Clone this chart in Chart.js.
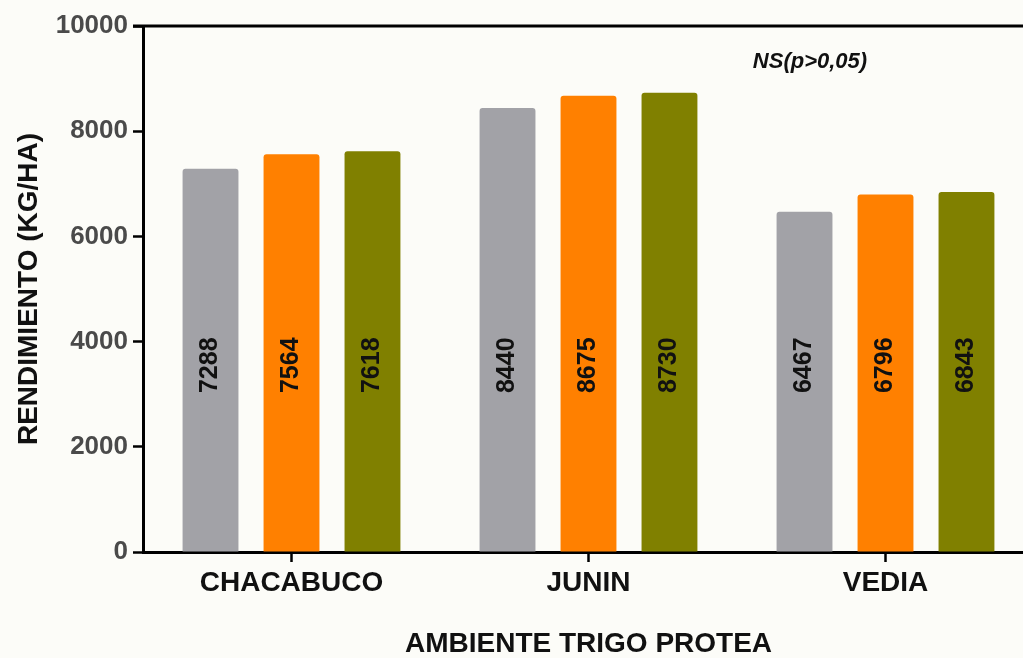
<!DOCTYPE html>
<html>
<head>
<meta charset="utf-8">
<script src="https://cdn.jsdelivr.net/npm/chart.js@4.4.1/dist/chart.umd.min.js"></script>
<style>
  html, body { margin: 0; padding: 0; overflow: hidden; background: #fcfcf8; }
  #wrap { width: 1034px; height: 658px; }
</style>
</head>
<body>
<div id="wrap"><canvas id="chart" width="1034" height="658"></canvas></div>
<script>
// datos
const ambientes = ['CHACABUCO', 'JUNIN', 'VEDIA'];
const serieGris = [7288, 8440, 6467];
const serieNaranja = [7564, 8675, 6796];
const serieOliva = [7618, 8730, 6843];
const yMin = 0;
const yMax = 10000;
const yPaso = 2000;
const nota = 'NS(p>0,05)';

const FONT = '"Liberation Sans", Arial, Helvetica, sans-serif';

// etiquetas verticales dentro de las barras + linea superior + nota
const extras = {
  id: 'extras',
  afterDatasetsDraw(chart) {
    const ctx = chart.ctx;
    const y = chart.scales.y.getPixelForValue(3550);
    ctx.save();
    ctx.font = 'bold 25px ' + FONT;
    ctx.fillStyle = '#111';
    ctx.textAlign = 'center';
    ctx.textBaseline = 'middle';
    chart.data.datasets.forEach((ds, i) => {
      chart.getDatasetMeta(i).data.forEach((bar, j) => {
        ctx.save();
        ctx.translate(bar.x, y);
        ctx.rotate(-Math.PI / 2);
        ctx.fillText(String(ds.data[j]), 0, 0);
        ctx.restore();
      });
    });
    ctx.restore();
  },
  afterDraw(chart) {
    const ctx = chart.ctx;
    const a = chart.chartArea;
    ctx.save();
    ctx.strokeStyle = '#000';
    ctx.lineWidth = 3;
    ctx.beginPath();
    ctx.moveTo(a.left - 10, a.top);
    ctx.lineTo(a.right, a.top);
    ctx.stroke();
    ctx.font = 'italic bold 22px ' + FONT;
    ctx.fillStyle = '#111';
    ctx.textAlign = 'center';
    ctx.textBaseline = 'middle';
    ctx.fillText(nota, 810, 62);
    ctx.restore();
  }
};

const ctx = document.getElementById('chart').getContext('2d');
const chart = new Chart(ctx, {
  type: 'bar',
  data: {
    labels: ambientes,
    datasets: [
      { label: 'Gris', data: serieGris, backgroundColor: '#a2a2a7' },
      { label: 'Naranja', data: serieNaranja, backgroundColor: '#ff8000' },
      { label: 'Oliva', data: serieOliva, backgroundColor: '#808000' }
    ]
  },
  options: {
    responsive: false,
    animation: false,
    layout: { padding: { top: 26, left: 0, right: 0, bottom: 0 } },
    datasets: {
      bar: { categoryPercentage: 0.818, barPercentage: 0.69, borderRadius: 3 }
    },
    plugins: {
      legend: { display: false },
      tooltip: { enabled: false }
    },
    scales: {
      x: {
        offset: true,
        grid: { offset: false, drawOnChartArea: false, tickLength: 10, tickWidth: 2.5, tickColor: '#000' },
        border: { color: '#000', width: 3 },
        ticks: { color: '#111', padding: 4, font: { family: FONT, size: 28, weight: 'bold' } },
        title: {
          display: true,
          text: 'AMBIENTE TRIGO PROTEA',
          color: '#111',
          padding: 0,
          font: { family: FONT, size: 28, weight: 'bold', lineHeight: 1 }
        },
        afterFit(scale) { scale.height = 106; }
      },
      y: {
        min: yMin,
        max: yMax,
        grid: { drawOnChartArea: false, tickLength: 10, tickWidth: 2.5, tickColor: '#000' },
        border: { color: '#000', width: 3 },
        ticks: {
          stepSize: yPaso,
          color: '#4a4a4a',
          padding: 5,
          font: { family: FONT, size: 26, weight: 'bold' },
          callback: v => String(v)
        },
        title: {
          display: true,
          text: 'RENDIMIENTO (KG/HA)',
          color: '#111',
          padding: { top: 15, bottom: 0 },
          font: { family: FONT, size: 28, weight: 'bold', lineHeight: 1 }
        },
        afterFit(scale) { scale.width = 143; }
      }
    }
  },
  plugins: [extras]
});
</script>
</body>
</html>
